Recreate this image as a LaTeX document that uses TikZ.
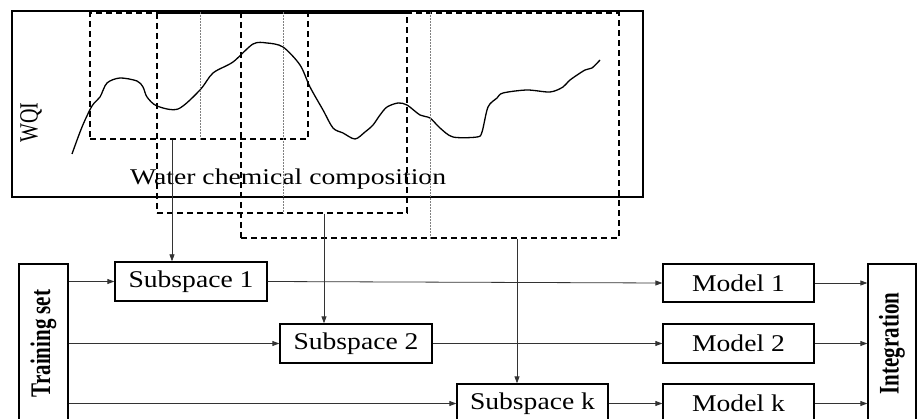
\documentclass[tikz,border=0pt]{standalone}
\usepackage{fontspec}
\setmainfont{Liberation Serif}
\usetikzlibrary{arrows.meta}
\begin{document}
\begin{tikzpicture}[x=1pt,y=1pt,
 box/.style={draw,line width=1.3pt,inner sep=0pt,font=\fontsize{24}{24}\selectfont},
 vbox/.style={draw,line width=1.3pt,inner sep=0pt,font=\fontsize{21}{21}\selectfont\bfseries},
 frame/.style={draw,line width=1.3pt,inner sep=0pt},
 win/.style={draw,line width=1.3pt,dash pattern=on 6pt off 4pt,inner sep=0pt},
 sep/.style={draw=gray,line width=0.8pt,dash pattern=on 1.5pt off 1.5pt},
 arr/.style={line width=0.8pt,draw=black!80,-{Triangle[length=7pt,width=5pt]}},
 curve/.style={line width=1.3pt}]
\useasboundingbox (0,0) rectangle (917,-419);
\clip (0,0) rectangle (917,-419);
% top frame
\node[frame,minimum width=631pt,minimum height=186pt] (fr) at (327.5,-104) {};
\node[inner sep=0pt,font=\fontsize{25}{25}\selectfont] (wqi) at (31,-122.5) {\rotatebox{90}{\scalebox{0.8}[1.05]{WQI}}};
\draw[curve] plot[smooth,tension=0.5] coordinates {(72,-154) (82,-127) (92,-106) (100,-97) (107,-83) (120,-78) (137,-81) (143,-87) (147,-97) (157,-106) (178,-109) (200,-90) (213,-73) (233,-62) (253,-44) (267,-43) (283,-47) (300,-65) (310,-87) (323,-110) (333,-128) (343,-133) (355,-139) (365,-132) (373,-125) (380,-115) (387,-107) (398,-103) (407,-105) (420,-115) (430,-118) (440,-128) (453,-137) (477,-137) (482,-132) (488,-107) (497,-98) (503,-93) (527,-90) (550,-92) (563,-87) (570,-80) (585,-70) (592,-68) (600,-60)};
\node[inner sep=0pt,anchor=base west,font=\fontsize{22.5}{22.5}\selectfont] (wcc) at (130,-185) {\scalebox{1.23}[1]{Water chemical composition}};
% windows
\node[win,minimum width=218pt,minimum height=126pt] (w1) at (199,-76) {};
\node[win,minimum width=250pt,minimum height=200pt] (w2) at (282,-113) {};
\node[win,minimum width=378pt,minimum height=225pt] (w3) at (430,-125.5) {};
\draw[sep] (w1.north -| 200,0) -- (w1.south -| 200,0);
\draw[sep] (w2.north -| 283,0) -- (w2.south -| 283,0);
\draw[sep] (w3.north -| 430,0) -- (w3.south -| 430,0);
% boxes
\node[vbox,minimum width=49pt,minimum height=159pt] (tr) at (43.5,-343.5) {\rotatebox{90}{\scalebox{1}[1.35]{Training set}}};
\node[vbox,minimum width=48pt,minimum height=159pt] (in) at (892,-343.5) {\rotatebox{90}{\scalebox{1}[1.35]{Integration}}};
\node[box,minimum width=152pt,minimum height=39pt] (s1) at (191,-281.5) {\scalebox{1.15}[1]{Subspace 1}};
\node[box,minimum width=152pt,minimum height=39pt] (s2) at (356,-343.5) {\scalebox{1.15}[1]{Subspace 2}};
\node[box,minimum width=151pt,minimum height=39pt] (sk) at (532.5,-403.5) {\scalebox{1.15}[1]{Subspace k}};
\node[box,minimum width=151pt,minimum height=38pt] (m1) at (738.5,-283) {\scalebox{1.15}[1]{Model 1}};
\node[box,minimum width=151pt,minimum height=39pt] (m2) at (738.5,-343.5) {\scalebox{1.15}[1]{Model 2}};
\node[box,minimum width=151pt,minimum height=39pt] (mk) at (738.5,-403.5) {\scalebox{1.15}[1]{Model k}};
% connectors
\draw[arr] (w1.south -| 172,0) -- (s1.north -| 172,0);
\draw[arr] (w2.south -| 324,0) -- (s2.north -| 324,0);
\draw[arr] (w3.south -| 517,0) -- (sk.north -| 517,0);
\draw[arr] (s1.west -| tr.east) -- (s1.west);
\draw[arr] (s2.west -| tr.east) -- (s2.west);
\draw[arr] (sk.west -| tr.east) -- (sk.west);
\draw[arr] (s1.east) -- (m1.west);
\draw[arr] (s2.east) -- (m2.west);
\draw[arr] (sk.east) -- (mk.west);
\draw[arr] (m1.east) -- (m1.east -| in.west);
\draw[arr] (m2.east) -- (m2.east -| in.west);
\draw[arr] (mk.east) -- (mk.east -| in.west);
\end{tikzpicture}
\end{document}
